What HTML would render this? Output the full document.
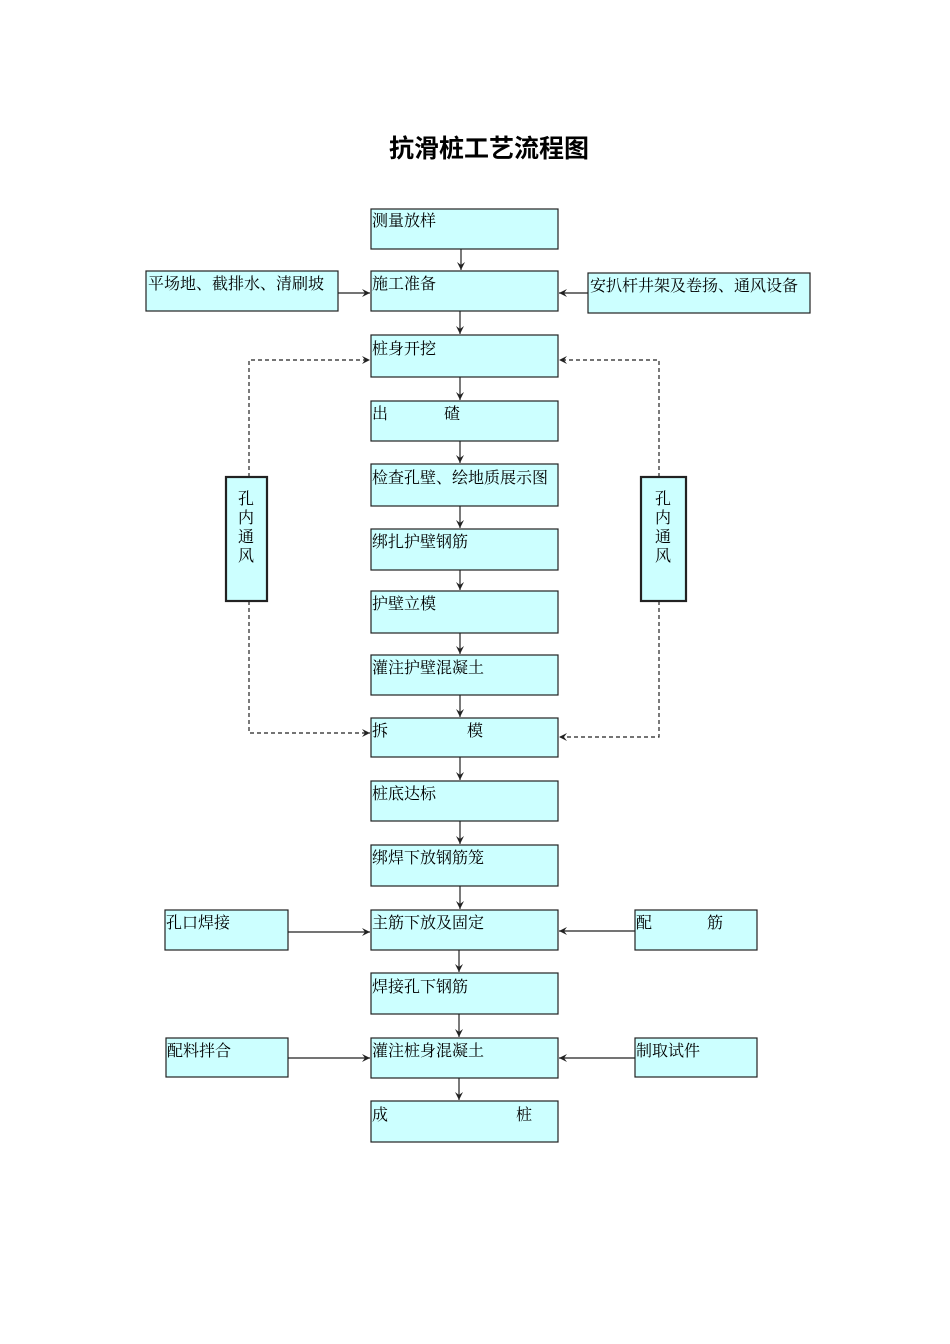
<!DOCTYPE html>
<html><head><meta charset="utf-8"><style>
html,body{margin:0;padding:0;background:#fff;}
svg{display:block;}
text{font-family:"Liberation Serif","Noto Serif CJK SC","Noto Sans CJK SC",serif;font-size:16px;fill:#000;}
.b{fill:#ccffff;stroke:#222;stroke-width:1.2;}
.l{stroke:#222;stroke-width:1.2;fill:none;}
.d{stroke:#222;stroke-width:1.2;fill:none;stroke-dasharray:4,3;}
</style></head><body>
<svg width="950" height="1344" viewBox="0 0 950 1344" xmlns="http://www.w3.org/2000/svg">
<defs><marker id="a" markerWidth="10" markerHeight="10" refX="8" refY="5" orient="auto" markerUnits="userSpaceOnUse"><path d="M0,1 L8,5 L0,9 L3,5 Z" fill="#222"/></marker></defs>
<text x="489" y="157" text-anchor="middle" style="font-family:'Liberation Sans','Noto Sans CJK SC',sans-serif;font-size:25px;font-weight:bold">抗滑桩工艺流程图</text>
<g>
<rect class="b" x="371" y="209" width="187" height="40"/><text x="372" y="226">测量放样</text>
<rect class="b" x="371" y="271" width="187" height="40"/><text x="372" y="289">施工准备</text>
<rect class="b" x="371" y="335" width="187" height="42"/><text x="372" y="354">桩身开挖</text>
<rect class="b" x="371" y="401" width="187" height="40"/><text x="372" y="419">出</text><text x="444" y="419">碴</text>
<rect class="b" x="371" y="464" width="187" height="42"/><text x="372" y="483">检查孔壁、绘地质展示图</text>
<rect class="b" x="371" y="529" width="187" height="41"/><text x="372" y="547">绑扎护壁钢筋</text>
<rect class="b" x="371" y="591" width="187" height="42"/><text x="372" y="609">护壁立模</text>
<rect class="b" x="371" y="655" width="187" height="40"/><text x="372" y="673">灌注护壁混凝土</text>
<rect class="b" x="371" y="718" width="187" height="39"/><text x="372" y="736">拆</text><text x="467" y="736">模</text>
<rect class="b" x="371" y="781" width="187" height="40"/><text x="372" y="799">桩底达标</text>
<rect class="b" x="371" y="845" width="187" height="41"/><text x="372" y="863">绑焊下放钢筋笼</text>
<rect class="b" x="371" y="910" width="187" height="40"/><text x="372" y="928">主筋下放及固定</text>
<rect class="b" x="371" y="973" width="187" height="41"/><text x="372" y="992">焊接孔下钢筋</text>
<rect class="b" x="371" y="1038" width="187" height="40"/><text x="372" y="1056">灌注桩身混凝土</text>
<rect class="b" x="371" y="1101" width="187" height="41"/><text x="372" y="1120">成</text><text x="516" y="1120">桩</text>

<rect class="b" x="146" y="271" width="192" height="40"/><text x="148" y="289">平场地、截排水、清刷坡</text>
<rect class="b" x="588" y="273" width="222" height="40"/><text x="590" y="291">安扒杆井架及卷扬、通风设备</text>
<rect class="b" x="226" y="477" width="41" height="124" style="stroke-width:2.2"/>
<text x="246" y="504" text-anchor="middle">孔</text><text x="246" y="523" text-anchor="middle">内</text><text x="246" y="542" text-anchor="middle">通</text><text x="246" y="561" text-anchor="middle">风</text>
<rect class="b" x="641" y="477" width="45" height="124" style="stroke-width:2.2"/>
<text x="663" y="504" text-anchor="middle">孔</text><text x="663" y="523" text-anchor="middle">内</text><text x="663" y="542" text-anchor="middle">通</text><text x="663" y="561" text-anchor="middle">风</text>
<rect class="b" x="165" y="910" width="123" height="40"/><text x="166" y="928">孔口焊接</text>
<rect class="b" x="635" y="910" width="122" height="40"/><text x="636" y="928">配</text><text x="707" y="928">筋</text>
<rect class="b" x="166" y="1038" width="122" height="39"/><text x="167" y="1056">配料拌合</text>
<rect class="b" x="635" y="1038" width="122" height="39"/><text x="636" y="1056">制取试件</text>
</g>
<g class="l" marker-end="url(#a)">
<line x1="461" y1="249" x2="461" y2="270"/>
<line x1="460" y1="311" x2="460" y2="334"/>
<line x1="460" y1="377" x2="460" y2="400"/>
<line x1="460" y1="441" x2="460" y2="463"/>
<line x1="460" y1="506" x2="460" y2="528"/>
<line x1="460" y1="570" x2="460" y2="590"/>
<line x1="460" y1="633" x2="460" y2="654"/>
<line x1="460" y1="695" x2="460" y2="717"/>
<line x1="460" y1="757" x2="460" y2="780"/>
<line x1="460" y1="821" x2="460" y2="844"/>
<line x1="460" y1="886" x2="460" y2="909"/>
<line x1="459" y1="950" x2="459" y2="972"/>
<line x1="459" y1="1014" x2="459" y2="1037"/>
<line x1="459" y1="1078" x2="459" y2="1100"/>
<line x1="338" y1="293" x2="370" y2="293"/>
<line x1="588" y1="293" x2="559" y2="293"/>
<line x1="288" y1="932" x2="370" y2="932"/>
<line x1="635" y1="931" x2="559" y2="931"/>
<line x1="288" y1="1058" x2="370" y2="1058"/>
<line x1="635" y1="1058" x2="559" y2="1058"/>
</g>
<g class="d">
<polyline points="249,477 249,360 370,360" marker-end="url(#a)"/>
<polyline points="249,601 249,733 370,733" marker-end="url(#a)"/>
<polyline points="659,477 659,360 559,360" marker-end="url(#a)"/>
<polyline points="659,601 659,737 559,737" marker-end="url(#a)"/>
</g>
</svg>
</body></html>
